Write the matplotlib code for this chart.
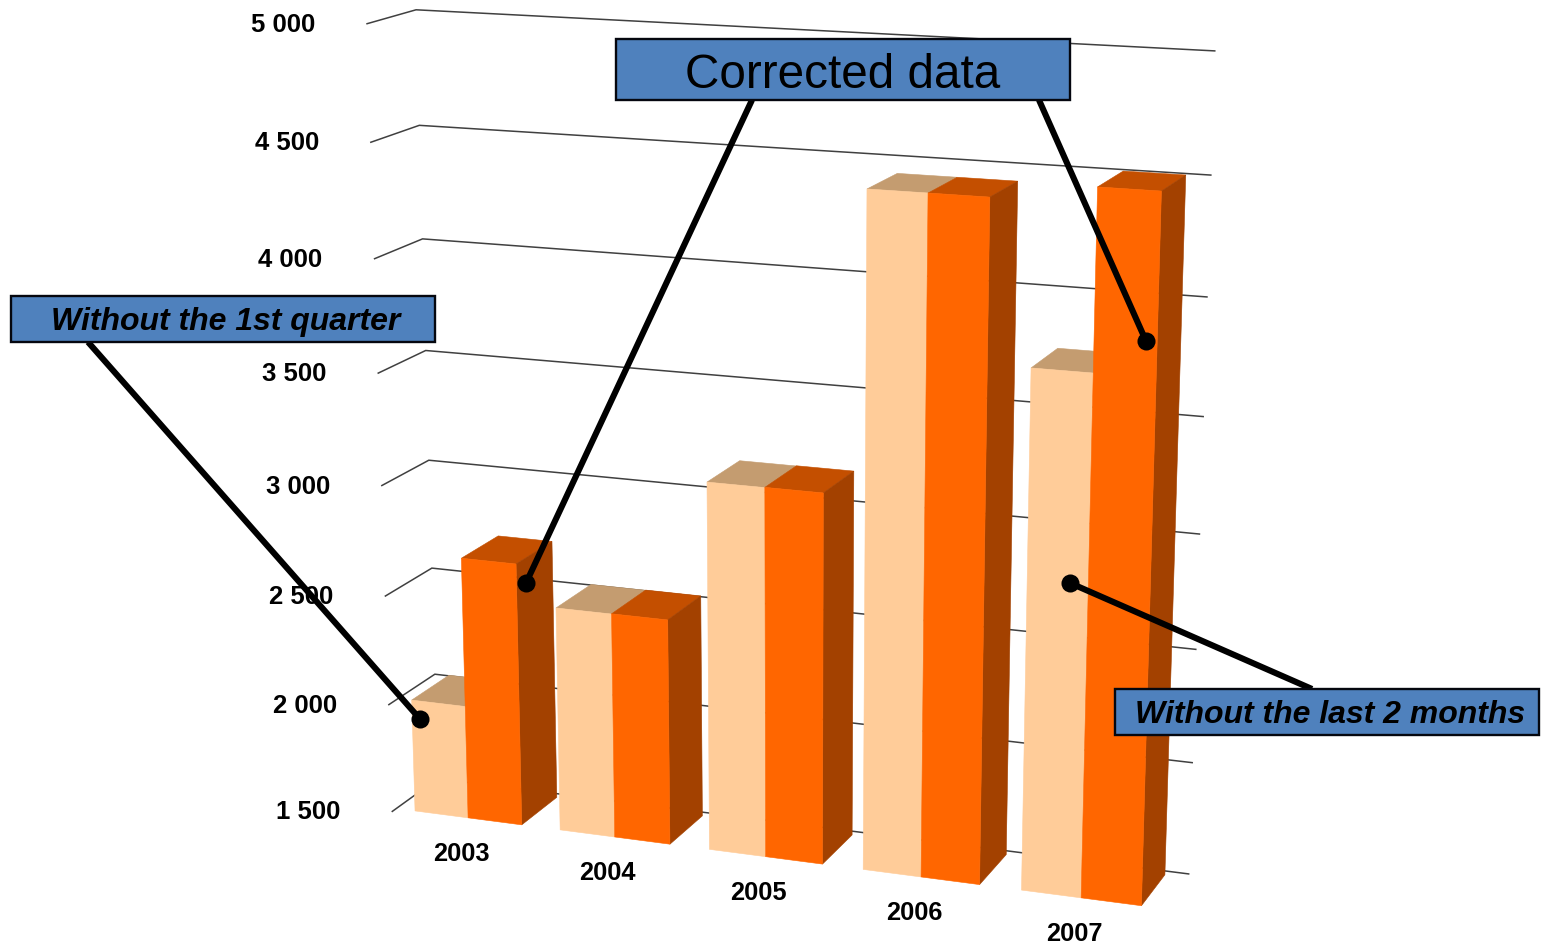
import numpy as np
import matplotlib
matplotlib.use("Agg")
import matplotlib.pyplot as plt
from matplotlib.patches import Polygon, Rectangle

plt.rcParams["font.family"] = ["Liberation Sans", "DejaVu Sans"]

# Chart data
years = ["2003", "2004", "2005", "2006", "2007"]
series_light = [2019, 2517, 3143, 4433, 3748]
series_dark = [2696, 2518, 3144, 4433, 4502]
value_ticks = [1500, 2000, 2500, 3000, 3500, 4000, 4500, 5000]
tick_labels = ["1 500", "2 000", "2 500", "3 000", "3 500", "4 000", "4 500", "5 000"]

# Perspective camera: (category, value / 1000, depth) -> canvas pixels
CAMERA = np.array([
    [133.563, -13.0585, 48.0479, 406.147],
    [7.03219, -219.402, -10.8631, 1117.63],
    [-0.0137409, -0.0164545, 0.0217589, 1.0],
])
BASE = 1500
GAP = 0.131          # gap on each side of a category
DEPTH_FRONT, DEPTH_BACK = 0.0, 0.94
WALL_FRONT, WALL_BACK = -0.1, 1.05


def project(cat, value, depth):
    h = CAMERA @ np.array([cat, value / 1000.0, depth, 1.0])
    return h[0] / h[2], h[1] / h[2]


fig = plt.figure(figsize=(15.44, 9.46), dpi=100)
ax = fig.add_axes([0, 0, 1, 1])
ax.set_xlim(0, 1544)
ax.set_ylim(946, 0)
ax.axis("off")

# Gridlines along the back wall and the left side wall
for v, lab in zip(value_ticks, tick_labels):
    pts = [project(0, v, WALL_FRONT), project(0, v, WALL_BACK),
           project(len(years), v, WALL_BACK)]
    ax.plot(*zip(*pts), color="#404040", lw=1.1, zorder=1,
            solid_joinstyle="miter")
    ax.annotate(lab, pts[0], xytext=(-37.5, -0.7), textcoords="offset points",
                ha="right", va="center", fontsize=18.5, fontweight="bold",
                color="black", zorder=2)


def box(x0, x1, top, shades, show_side):
    """Draw one bar from its value: top face, optional right face, front face."""
    front_top = [project(x0, top, DEPTH_FRONT), project(x1, top, DEPTH_FRONT)]
    back_top = [project(x0, top, DEPTH_BACK), project(x1, top, DEPTH_BACK)]
    front_low = [project(x0, BASE, DEPTH_FRONT), project(x1, BASE, DEPTH_FRONT)]
    back_low = project(x1, BASE, DEPTH_BACK)
    front_col, top_col, side_col = shades
    faces = [([front_top[0], front_top[1], back_top[1], back_top[0]], top_col)]
    if show_side:
        faces.append(([front_top[1], back_top[1], back_low, front_low[1]], side_col))
    faces.append(([front_low[0], front_low[1], front_top[1], front_top[0]], front_col))
    for poly, col in faces:
        ax.add_patch(Polygon(poly, closed=True, facecolor=col, edgecolor=col,
                             lw=0.4, zorder=3))


LIGHT = ("#FFCC99", "#C49C70", "#C49C70")
DARK = ("#FF6600", "#C44F00", "#A34100")

for k, (a, b) in enumerate(zip(series_light, series_dark)):
    left, right = k + GAP, k + 1 - GAP
    mid = k + 0.5
    box(left, mid, a, LIGHT, False)
    box(mid, right, b, DARK, True)
    px, py = project(mid, BASE, DEPTH_FRONT)
    ax.text(px - 7, py + 36, years[k], ha="center", va="center",
            fontsize=18.3, fontweight="bold", color="black", zorder=4)

# Callout boxes with their leader lines
callouts = [
    ("Without the 1st quarter", (11, 296, 435, 342), 23, "bold", "italic",
     [((88, 342), (420, 719))], (2.5, 3)),
    ("Corrected data", (616, 39, 1070, 100), 34.3, "normal", "normal",
     [((752, 100), (526, 583)), ((1039, 100), (1146, 341))], (0, 5.5)),
    ("Without the last 2 months", (1115, 689, 1539, 735), 23, "bold", "italic",
     [((1312, 689), (1070, 583))], (3.5, 3)),
]
for text, (x0, y0, x1, y1), size, weight, style, leaders, (dx, dy) in callouts:
    for start, end in leaders:
        ax.plot(*zip(start, end), color="black", lw=4.4, zorder=5,
                solid_capstyle="butt")
        ax.plot(*end, "o", color="black", ms=13, mew=0, zorder=5)
    ax.add_patch(Rectangle((x0, y0), x1 - x0, y1 - y0, facecolor="#4F81BD",
                           edgecolor="#05070F", lw=1.7, zorder=6))
    ax.text((x0 + x1) / 2 + dx, (y0 + y1) / 2 + dy, text, ha="center", va="center",
            fontsize=size, fontweight=weight, fontstyle=style, color="black",
            zorder=7)

fig.savefig("out.png", dpi=100)
